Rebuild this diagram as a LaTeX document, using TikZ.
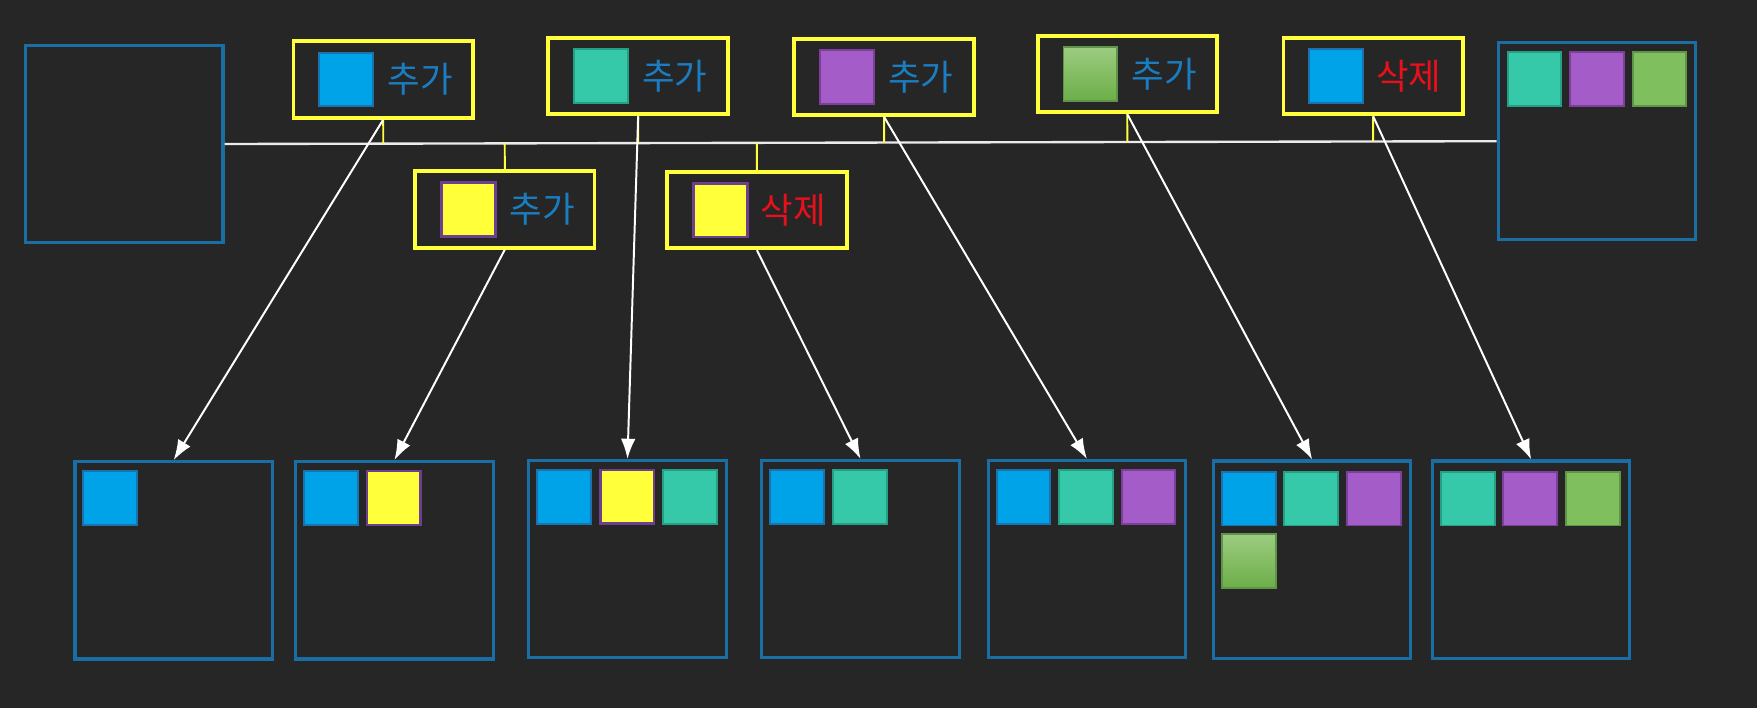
\documentclass[tikz,border=0pt]{standalone}
\usepackage{fontspec}
\newfontfamily\kofont{Noto Sans CJK KR}
\usetikzlibrary{positioning, arrows.meta, calc}

\definecolor{bgcol}{HTML}{262626}
\definecolor{stateline}{HTML}{1B6EA3}
\definecolor{eventline}{HTML}{FFFF3C}
\definecolor{addblue}{HTML}{1A7DC2}
\definecolor{delred}{HTML}{E8101A}
\definecolor{sqblue}{HTML}{00A2E8}
\definecolor{sqblueline}{HTML}{1A72AE}
\definecolor{sqteal}{HTML}{36C9A9}
\definecolor{sqtealline}{HTML}{26A085}
\definecolor{sqpurple}{HTML}{A45CC8}
\definecolor{sqpurpleline}{HTML}{7C409C}
\definecolor{sqgreen}{HTML}{80BF5E}
\definecolor{sqgreenline}{HTML}{5F9548}
\definecolor{sqgreenhi}{HTML}{9CCC80}
\definecolor{sqgreenlo}{HTML}{6CAE48}
\definecolor{sqyellow}{HTML}{FFFF3A}
\definecolor{sqyellowline}{HTML}{6E3F8E}

\begin{document}
\begin{tikzpicture}[x=0.01cm, y=-0.01cm, font=\kofont\fontsize{9}{11}\selectfont, >=Latex]
  % Styles
  \tikzset{
    state/.style={draw=stateline, line width=0.8pt, minimum width=1.76cm, minimum height=1.76cm, inner sep=0pt},
    event/.style={draw=eventline, line width=1pt, minimum width=1.60cm, minimum height=0.68cm, inner sep=0pt},
    sq/.style={line width=0.5pt, minimum size=0.48cm, inner sep=0pt},
    bluesq/.style={sq, fill=sqblue, draw=sqblueline},
    tealsq/.style={sq, fill=sqteal, draw=sqtealline},
    purplesq/.style={sq, fill=sqpurple, draw=sqpurpleline},
    greensq/.style={sq, fill=sqgreen, draw=sqgreenline},
    greengrad/.style={sq, draw=sqgreenline, top color=sqgreenhi, bottom color=sqgreenlo},
    yellowsq/.style={sq, fill=sqyellow, draw=sqyellowline, line width=0.7pt},
    addtext/.style={text=addblue, inner sep=0pt},
    deltext/.style={text=delred, inner sep=0pt},
    timeline/.style={draw=white!92!black, line width=0.6pt},
    tick/.style={draw=eventline, line width=0.5pt},
    arrow/.style={-{Latex[length=1.8mm,width=1.3mm]}, draw=white, line width=0.5pt}
  }

  % Background
  \fill[bgcol] (0,0) rectangle (1568,632);

  % States
  \node[state] (init) at (111,128.5) {};
  \node[state] (final) at (1425,126) {};
  \node[state] (b1) at (155,500) {};
  \node[state] (b2) at (352,500) {};
  \node[state] (b3) at (560,499) {};
  \node[state] (b4) at (768,499) {};
  \node[state] (b5) at (970,499) {};
  \node[state] (b6) at (1171,499.5) {};
  \node[state] (b7) at (1366.5,499.5) {};

  % Events
  \node[event] (ev1) at (342,71) {};
  \node[event] (ev2) at (569.5,68) {};
  \node[event] (ev3) at (789,68.5) {};
  \node[event] (ev4) at (1006,66) {};
  \node[event] (ev5) at (1225.5,68) {};
  \node[event] (ev6) at (450.5,187) {};
  \node[event] (ev7) at (675.5,187.5) {};

  \node[bluesq, anchor=west] (ev1sq) at ([xshift=0.24cm]ev1.west) {};
  \node[addtext, right=0.11cm of ev1sq] (ev1txt) {추가};
  \node[tealsq, anchor=west] (ev2sq) at ([xshift=0.24cm]ev2.west) {};
  \node[addtext, right=0.11cm of ev2sq] (ev2txt) {추가};
  \node[purplesq, anchor=west] (ev3sq) at ([xshift=0.24cm]ev3.west) {};
  \node[addtext, right=0.11cm of ev3sq] (ev3txt) {추가};
  \node[greengrad, anchor=west] (ev4sq) at ([xshift=0.24cm]ev4.west) {};
  \node[addtext, right=0.11cm of ev4sq] (ev4txt) {추가};
  \node[bluesq, anchor=west] (ev5sq) at ([xshift=0.24cm]ev5.west) {};
  \node[deltext, right=0.1cm of ev5sq] (ev5txt) {삭제};
  \node[yellowsq, anchor=west] (ev6sq) at ([xshift=0.24cm]ev6.west) {};
  \node[addtext, right=0.11cm of ev6sq] (ev6txt) {추가};
  \node[yellowsq, anchor=west] (ev7sq) at ([xshift=0.24cm]ev7.west) {};
  \node[deltext, right=0.1cm of ev7sq] (ev7txt) {삭제};

  % Contents
  \node[tealsq, anchor=north west] (fins1) at ([xshift=0.09cm, yshift=-0.09cm]final.north west) {};
  \node[purplesq, right=0.06cm of fins1] (fins2) {};
  \node[greensq, right=0.06cm of fins2] (fins3) {};

  \node[bluesq, anchor=north west] (b1s1) at ([xshift=0.08cm, yshift=-0.09cm]b1.north west) {};

  \node[bluesq, anchor=north west] (b2s1) at ([xshift=0.08cm, yshift=-0.09cm]b2.north west) {};
  \node[yellowsq, right=0.06cm of b2s1] (b2s2) {};

  \node[bluesq, anchor=north west] (b3s1) at ([xshift=0.08cm, yshift=-0.09cm]b3.north west) {};
  \node[yellowsq, right=0.06cm of b3s1] (b3s2) {};
  \node[tealsq, right=0.06cm of b3s2] (b3s3) {};

  \node[bluesq, anchor=north west] (b4s1) at ([xshift=0.08cm, yshift=-0.09cm]b4.north west) {};
  \node[tealsq, right=0.06cm of b4s1] (b4s2) {};

  \node[bluesq, anchor=north west] (b5s1) at ([xshift=0.08cm, yshift=-0.09cm]b5.north west) {};
  \node[tealsq, right=0.06cm of b5s1] (b5s2) {};
  \node[purplesq, right=0.06cm of b5s2] (b5s3) {};

  \node[bluesq, anchor=north west] (b6s1) at ([xshift=0.08cm, yshift=-0.1cm]b6.north west) {};
  \node[tealsq, right=0.06cm of b6s1] (b6s2) {};
  \node[purplesq, right=0.06cm of b6s2] (b6s3) {};
  \node[greengrad, below=0.06cm of b6s1] (b6s4) {};

  \node[tealsq, anchor=north west] (b7s1) at ([xshift=0.08cm, yshift=-0.1cm]b7.north west) {};
  \node[purplesq, right=0.06cm of b7s1] (b7s2) {};
  \node[greensq, right=0.06cm of b7s2] (b7s3) {};

  % Timeline
  \draw[timeline] (init.east) -- (final.west);
  \draw[tick] (ev1.south) -- ($(init.east)!(ev1.south)!(final.west)$);
  \draw[tick] (ev2.south) -- ($(init.east)!(ev2.south)!(final.west)$);
  \draw[tick] (ev3.south) -- ($(init.east)!(ev3.south)!(final.west)$);
  \draw[tick] (ev4.south) -- ($(init.east)!(ev4.south)!(final.west)$);
  \draw[tick] (ev5.south) -- ($(init.east)!(ev5.south)!(final.west)$);
  \draw[tick] (ev6.north) -- ($(init.east)!(ev6.north)!(final.west)$);
  \draw[tick] (ev7.north) -- ($(init.east)!(ev7.north)!(final.west)$);

  % Arrows
  \draw[arrow] (ev1.south) -- (b1.north);
  \draw[arrow] (ev6.south) -- (b2.north);
  \draw[arrow] (ev2.south) -- (b3.north);
  \draw[arrow] (ev7.south) -- (b4.north);
  \draw[arrow] (ev3.south) -- (b5.north);
  \draw[arrow] (ev4.south) -- (b6.north);
  \draw[arrow] (ev5.south) -- (b7.north);

\end{tikzpicture}
\end{document}
